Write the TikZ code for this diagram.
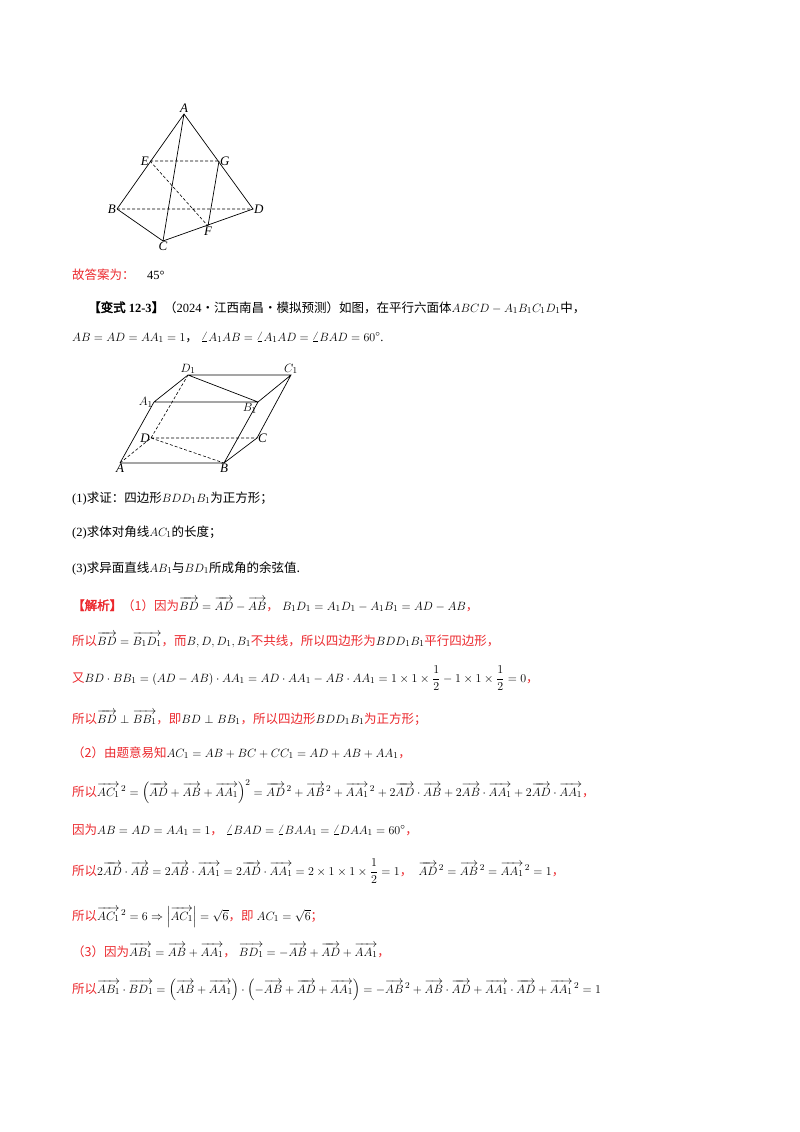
\documentclass[tikz,border=0pt]{standalone}
\usepackage{amsmath}
\usepackage{fontspec}
\setmainfont{Liberation Serif}
\newfontfamily\cjk[AutoFakeBold=2.5]{Noto Sans CJK SC}
\newcommand{\zh}[1]{{\cjk #1}}
\definecolor{ans}{RGB}{235,40,45}
\newcommand{\ov}[1]{\overrightarrow{#1}}
\begin{document}
\begin{tikzpicture}[x=1pt,y=-1pt,
  ln/.style={line width=0.7pt},
  dl/.style={line width=0.6pt,dashed,dash pattern=on 3pt off 2pt},
  lab/.style={font=\itshape\fontsize{13}{13}\selectfont,inner sep=1pt},
  tx/.style={anchor=base west,inner sep=0pt,font=\fontsize{12.5}{15}\selectfont}]
\useasboundingbox (0,0) rectangle (800,1132);
% tetrahedron
\coordinate (A) at (184,114); \coordinate (E) at (150,161); \coordinate (G) at (219,161);
\coordinate (B) at (117,209); \coordinate (D) at (253,209); \coordinate (C) at (163,241);
\coordinate (F) at (208,226);
\draw[ln] (B)--(A)--(D)--(C)--(B) (A)--(C) (G)--(F);
\draw[dl] (B)--(D) (E)--(G) (E)--(F);
\node[lab,above] (lA) at (A) {A};
\node[lab,left] (lE) at (E) {E};
\node[lab,right] (lG) at (G) {G};
\node[lab,left] (lB) at (B) {B};
\node[lab,right] (lD) at (D) {D};
\node[lab,below] (lC) at (C) {C};
\node[lab,below] (lF) at (F) {F};
% parallelepiped
\coordinate (D1) at (188,375); \coordinate (C1) at (291,375); \coordinate (A1) at (154,402);
\coordinate (B1) at (258,402); \coordinate (PD) at (151,438); \coordinate (PC) at (257,438);
\coordinate (PA) at (120,463); \coordinate (PB) at (224,463);
\draw[ln] (PA)--(PB)--(PC)--(C1)--(D1)--(A1)--(PA) (A1)--(B1)--(C1) (D1)--(B1)--(PB);
\draw[dl] (PA)--(PD)--(D1) (PD)--(PC) (PD)--(PB);
\node[lab,above] (l1) at (D1) {$D_1$};
\node[lab,above] (l2) at (C1) {$C_1$};
\node[lab,left] (l3) at (A1) {$A_1$};
\node[lab,below left] (l4) at (B1) {$B_1$};
\node[lab,left] (l5) at (PD) {D};
\node[lab,right] (l6) at (PC) {C};
\node[lab,below] (l7) at (PA) {A};
\node[lab,below] (l8) at (PB) {B};
% text
\node[tx] (t0) at (72,279) {\textcolor{ans}{\zh{故答案为：}}\quad 45°};
\node[tx] (t1) at (88,312) {\zh{\textbf{【变式}}\textbf{ 12-3}\zh{\textbf{】}}\zh{（}2024\zh{·江西南昌·模拟预测）如图，在平行六面体}$ABCD-A_1B_1C_1D_1$\zh{中，}};
\node[tx] (t2) at (72,341) {$AB=AD=AA_1=1$\zh{，}\ $\angle A_1AB=\angle A_1AD=\angle BAD=60^\circ$.};
\node[tx] (t3) at (72,502) {(1)\zh{求证：四边形}$BDD_1B_1$\zh{为正方形；}};
\node[tx] (t4) at (72,536) {(2)\zh{求体对角线}$AC_1$\zh{的长度；}};
\node[tx] (t5) at (72,572) {(3)\zh{求异面直线}$AB_1$\zh{与}$BD_1$\zh{所成角的余弦值.}};
\node[tx] (t6) at (72,610) {\textcolor{ans}{\zh{\textbf{【解析】}（1）因为}}$\ov{BD}=\ov{AD}-\ov{AB}$\textcolor{ans}{\zh{，}}\ $B_1D_1=A_1D_1-A_1B_1=AD-AB$\textcolor{ans}{\zh{，}}};
\node[tx] (t7) at (72,645) {\textcolor{ans}{\zh{所以}}$\ov{BD}=\ov{B_1D_1}$\textcolor{ans}{\zh{，而}}$B,D,D_1,B_1$\textcolor{ans}{\zh{不共线，所以四边形为}}$BDD_1B_1$\textcolor{ans}{\zh{平行四边形，}}};
\node[tx] (t8) at (72,682) {\textcolor{ans}{\zh{又}}$BD\cdot BB_1=\left(AD-AB\right)\cdot AA_1=AD\cdot AA_1-AB\cdot AA_1=1\times1\times\dfrac12-1\times1\times\dfrac12=0$\textcolor{ans}{\zh{，}}};
\node[tx] (t9) at (72,723) {\textcolor{ans}{\zh{所以}}$\ov{BD}\perp\ov{BB_1}$\textcolor{ans}{\zh{，即}}$BD\perp BB_1$\textcolor{ans}{\zh{，所以四边形}}$BDD_1B_1$\textcolor{ans}{\zh{为正方形；}}};
\node[tx] (t10) at (72,757) {\textcolor{ans}{\zh{（2）由题意易知}}$AC_1=AB+BC+CC_1=AD+AB+AA_1$\textcolor{ans}{\zh{，}}};
\node[tx] (t11) at (72,796) {\textcolor{ans}{\zh{所以}}$\ov{AC_1}^{\,2}=\left(\ov{AD}+\ov{AB}+\ov{AA_1}\right)^2=\ov{AD}^{\,2}+\ov{AB}^{\,2}+\ov{AA_1}^{\,2}+2\ov{AD}\cdot\ov{AB}+2\ov{AB}\cdot\ov{AA_1}+2\ov{AD}\cdot\ov{AA_1}$\textcolor{ans}{\zh{，}}};
\node[tx] (t12) at (72,834) {\textcolor{ans}{\zh{因为}}$AB=AD=AA_1=1$\textcolor{ans}{\zh{，}}\ $\angle BAD=\angle BAA_1=\angle DAA_1=60^\circ$\textcolor{ans}{\zh{，}}};
\node[tx] (t13) at (72,875) {\textcolor{ans}{\zh{所以}}$2\ov{AD}\cdot\ov{AB}=2\ov{AB}\cdot\ov{AA_1}=2\ov{AD}\cdot\ov{AA_1}=2\times1\times1\times\dfrac12=1$\textcolor{ans}{\zh{，}}\ \ $\ov{AD}^{\,2}=\ov{AB}^{\,2}=\ov{AA_1}^{\,2}=1$\textcolor{ans}{\zh{，}}};
\node[tx] (t14) at (72,920) {\textcolor{ans}{\zh{所以}}$\ov{AC_1}^{\,2}=6\Rightarrow\left|\ov{AC_1}\right|=\sqrt6$\textcolor{ans}{\zh{，即}}\ $AC_1=\sqrt6$\textcolor{ans}{\zh{；}}};
\node[tx] (t15) at (72,956) {\textcolor{ans}{\zh{（3）因为}}$\ov{AB_1}=\ov{AB}+\ov{AA_1}$\textcolor{ans}{\zh{，}}\ $\ov{BD_1}=-\ov{AB}+\ov{AD}+\ov{AA_1}$\textcolor{ans}{\zh{，}}};
\node[tx] (t16) at (72,993) {\textcolor{ans}{\zh{所以}}$\ov{AB_1}\cdot\ov{BD_1}=\left(\ov{AB}+\ov{AA_1}\right)\cdot\left(-\ov{AB}+\ov{AD}+\ov{AA_1}\right)=-\ov{AB}^{\,2}+\ov{AB}\cdot\ov{AD}+\ov{AA_1}\cdot\ov{AD}+\ov{AA_1}^{\,2}=1$};
\end{tikzpicture}
\end{document}
